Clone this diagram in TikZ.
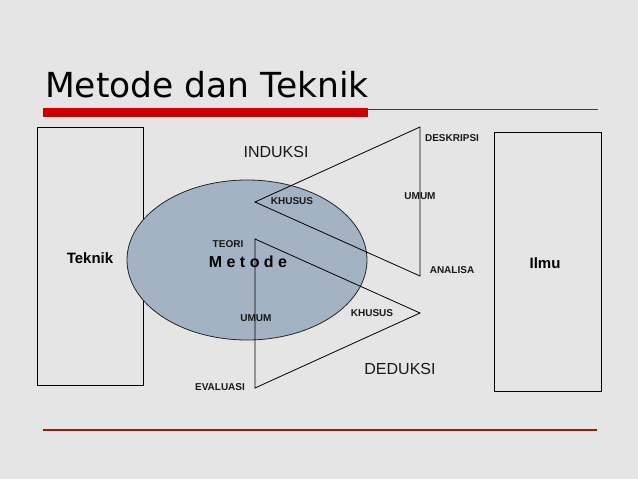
\documentclass[tikz,border=0pt]{standalone}
\usepackage{fontspec}
\setmainfont{Liberation Sans}
\newfontfamily\titlefont{DejaVu Sans}
\usetikzlibrary{shapes.geometric}
\definecolor{bggray}{RGB}{229,229,229}
\definecolor{ellfill}{RGB}{164,179,195}
\definecolor{barred}{RGB}{204,0,0}
\definecolor{linered}{RGB}{160,20,20}
\tikzset{
  box/.style={draw=black, line width=0.9pt, minimum width=#1, inner sep=0pt},
  lbl/.style={font=\fontsize{10}{10}\selectfont\bfseries, inner sep=0pt, text=black!90},
  biglbl/.style={font=\fontsize{16}{16}\selectfont, inner sep=0pt, text=black!90},
  tri/.style={draw=black, line width=0.8pt}
}
\begin{document}
\begin{tikzpicture}[x=1pt,y=-1pt]
\useasboundingbox (0,0) rectangle (638,479);
\fill[bggray] (0,0) rectangle (638,479);
% title
\node[anchor=base west, inner sep=0pt, font=\titlefont\fontsize{34.5}{34.5}\selectfont] (title) at (45,97) {Metode dan Teknik};
\fill[barred] (43,108) rectangle (368,117);
\coordinate (tl1) at (368,109);
\coordinate (tl2) at (598,109);
\draw[barred, line width=1pt] (tl1) -- (tl2);
\coordinate (bl1) at (43,430);
\coordinate (bl2) at (597,430);
\draw[linered, line width=1.1pt] (bl1) -- (bl2);
% side boxes
\node[box=106pt, minimum height=258pt] (teknik) at (90,256) {};
\node[font=\fontsize{15}{15}\selectfont\bfseries] (teknikt) at (90,258) {Teknik};
\node[box=107pt, minimum height=259pt] (ilmu) at (547.5,261.5) {};
\node[font=\fontsize{15}{15}\selectfont\bfseries] (ilmut) at (545,263) {Ilmu};
% ellipse
\node[ellipse, draw=black!85, line width=0.8pt, fill=ellfill, minimum width=240pt, minimum height=160pt, inner sep=0pt] (metode) at (247,260) {};
% triangles
\coordinate (ik) at (255,202);
\coordinate (id) at (420,127);
\coordinate (ia) at (420,276);
\draw[tri] (ik) -- (id) -- (ia) -- cycle;
\coordinate (dt) at (255,239);
\coordinate (dk) at (420,313);
\coordinate (de) at (255,388);
\draw[tri] (dt) -- (dk) -- (de) -- cycle;
% labels
\node[biglbl] (induksi) at (276,152) {INDUKSI};
\node[biglbl] (deduksi) at (400,369) {DEDUKSI};
\node[lbl] (khusus1) at (292,201) {KHUSUS};
\node[lbl] (umum1) at (420,196) {UMUM};
\node[lbl] (teori) at (228,244) {TEORI};
\node[font=\fontsize{16}{16}\selectfont\bfseries, inner sep=0pt] (metodet) at (248,262) {M e t o d e};
\node[lbl] (umum2) at (256,318) {UMUM};
\node[lbl] (khusus2) at (372,313) {KHUSUS};
\node[lbl] (evaluasi) at (220,387) {EVALUASI};
\node[lbl] (deskripsi) at (452,138) {DESKRIPSI};
\node[lbl] (analisa) at (452,270) {ANALISA};
\end{tikzpicture}
\end{document}
